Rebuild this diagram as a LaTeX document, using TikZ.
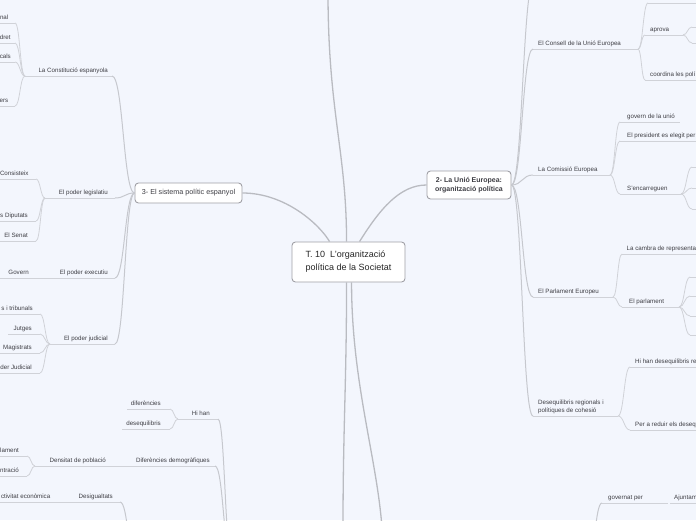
\documentclass[tikz,border=0pt]{standalone}
\usepackage{fontspec}
\setmainfont{Liberation Sans}
\usetikzlibrary{calc}
\definecolor{bg}{RGB}{243,246,253}
\definecolor{ln}{RGB}{208,210,216}
\definecolor{ln2}{RGB}{198,200,206}
\definecolor{mainln}{RGB}{185,187,193}
\definecolor{tx}{RGB}{62,62,68}
\definecolor{bord}{RGB}{160,160,166}
\tikzset{
  conn/.style={draw=ln, line width=0.8pt},
  conntwo/.style={draw=ln2, line width=1pt},
  mainconn/.style={draw=mainln, line width=1.3pt},
  uline/.style={draw=ln, line width=0.8pt},
  lbl/.style={font=\fontsize{6.2}{7.4}\selectfont, text=tx, inner sep=0pt},
  lblL/.style={lbl, anchor=base east},
  lblR/.style={lbl, anchor=base west},
  topbox/.style={draw=bord, fill=white, rounded corners=3.5pt, line width=0.9pt,
    font=\fontsize{7.2}{9.5}\selectfont, text=tx, align=center, inner sep=0pt},
}
\newcommand\mmL[6]{\coordinate (#1-l) at (#2,#4); \coordinate (#1-r) at (#3,#4);
  \draw[uline] (#1-l) -- (#1-r); \node[lblL] (#1) at (#5,#4-3.5) {#6};}
\newcommand\mmR[6]{\coordinate (#1-l) at (#2,#4); \coordinate (#1-r) at (#3,#4);
  \draw[uline] (#1-l) -- (#1-r); \node[lblR] (#1) at (#5,#4-3.5) {#6};}
\newcommand\mmU[4]{\coordinate (#1-l) at (#2,#4); \coordinate (#1-r) at (#3,#4);
  \draw[uline] (#1-l) -- (#1-r);}
\newcommand\mmconn[3][conn]{\draw[#1] let \p1=(#2), \p2=(#3) in (\p1) .. controls ({0.5*\x1+0.5*\x2},\y1) and ({0.5*\x1+0.5*\x2},\y2) .. (\p2);}
\begin{document}
\begin{tikzpicture}[x=1pt,y=-1pt]
\useasboundingbox (0,0) rectangle (696,520);
\fill[bg] (0,0) rectangle (696,520);
\begin{scope}
\clip (0,0) rectangle (696,520);
% main nodes
\node[topbox, minimum width=113pt, minimum height=40pt, align=left,
      font=\fontsize{9}{13}\selectfont, text=black!85] (n0) at (348.5,262)
      {T. 10\ \ L'organització\\política de la Societat};
\node[topbox, minimum width=107pt, minimum height=20pt] (n3) at (188.5,193) {3- El sistema polític espanyol};
\node[topbox, minimum width=84pt, minimum height=28pt, font=\bfseries\fontsize{7}{9.5}\selectfont] (n2) at (469,185) {2- La Unió Europea:\\organització política};
% anchor points on the central node
\coordinate (n0t1) at ($(n0.north west)+(38,0)$);
\coordinate (n0t2) at ($(n0.north west)+(55,0)$);
\coordinate (n0t3) at ($(n0.north west)+(68,0)$);
\coordinate (n0b1) at ($(n0.south west)+(55,0)$);
\coordinate (n0b2) at ($(n0.south west)+(60,0)$);
\coordinate (topout) at (328,-8);
\coordinate (botout1) at (343,528);
\coordinate (botout2) at (382,528);
\draw[mainconn] (n3.east) .. controls +(43,0) and +(-10,-17) .. (n0t1);
\draw[mainconn] (n0t2) .. controls +(0,-90) and +(0,120) .. (topout);
\draw[mainconn] (n0t3) .. controls +(20,-32) and +(-27,0) .. (n2.west);
\draw[mainconn] (n0b1) .. controls +(0,100) and +(0,-100) .. (botout1);
\draw[mainconn] (n0b2) .. controls +(0,100) and +(-5,-70) .. (botout2);
% ---------------- left: 3- El sistema politic espanyol
\mmL{constit}{25}{112}{76}{108}{La Constitució espanyola}
\mmL{ca}{0}{15}{23}{8.5}{nal}
\mmL{cb}{0}{15}{43}{10.8}{dret}
\mmL{cc}{0}{15}{62}{11}{cals}
\mmL{cd}{0}{15}{106}{8.5}{ers}
\mmL{legis}{45}{115}{198}{108}{El poder legislatiu}
\mmL{consist}{0}{36}{179}{28.8}{Consisteix}
\mmL{diput}{0}{36}{221}{28}{s Diputats}
\mmL{senat}{0}{36}{241}{28}{El Senat}
\mmL{exec}{45}{115}{278}{108}{El poder executiu}
\mmL{govern}{0}{45}{278}{29}{Govern}
\mmL{judic}{50}{115}{344}{108}{El poder judicial}
\mmL{tribun}{0}{40}{314}{33}{s i tribunals}
\mmL{jutges}{8}{40}{334}{32}{Jutges}
\mmL{magist}{0}{40}{353}{32}{Magistrats}
\mmL{cgpj}{0}{40}{373}{32}{der Judicial}
\mmconn[conntwo]{n3.west}{constit-r}
\mmconn[conntwo]{n3.west}{legis-r}
\mmconn[conntwo]{n3.west}{exec-r}
\mmconn[conntwo]{n3.west}{judic-r}
\mmconn{constit-l}{ca-r}
\mmconn{constit-l}{cb-r}
\mmconn{constit-l}{cc-r}
\mmconn{constit-l}{cd-r}
\mmconn{legis-l}{consist-r}
\mmconn{legis-l}{diput-r}
\mmconn{legis-l}{senat-r}
\mmconn{judic-l}{tribun-r}
\mmconn{judic-l}{jutges-r}
\mmconn{judic-l}{magist-r}
\mmconn{judic-l}{cgpj-r}
% ---------------- bottom left
\coordinate (hb) at (232,560);
\coordinate (db) at (136,560);
\mmL{hihan}{178}{218}{419}{210}{Hi han}
\mmL{difer}{127}{170}{409}{161}{diferències}
\mmL{deseqL}{122}{170}{429}{161}{desequilibris}
\mmL{difdem}{132}{215}{466}{210}{Diferències demogràfiques}
\mmL{densit}{35}{132}{466}{106}{Densitat de població}
\mmL{lament}{0}{27}{456}{19}{lament}
\mmL{ntrac}{0}{27}{476}{19}{ntració}
\mmL{desig}{50}{120}{502}{113}{Desigualtats}
\mmL{activ}{0}{50}{502}{50.5}{ctivitat econòmica}
\mmconn[conntwo]{hb}{hihan-r}
\mmconn[conntwo]{hb}{difdem-r}
\mmconn[conntwo]{db}{desig-r}
\mmconn{hihan-l}{difer-r}
\mmconn{hihan-l}{deseqL-r}
\mmconn{densit-l}{lament-r}
\mmconn{densit-l}{ntrac-r}
% ---------------- right: 2- La Unio Europea
\coordinate (rtop) at (534,-20);
\mmR{consell}{533}{638}{49}{538}{El Consell de la Unió Europea}
\mmU{topc}{648}{700}{3}
\mmR{aprova}{645}{683}{35}{650}{aprova}
\mmU{apA}{692}{700}{27}
\mmU{apB}{692}{700}{43}
\mmR{coord}{645}{700}{80}{650}{coordina les polí}
\mmR{comiss}{533}{610}{175}{538}{La Comissió Europea}
\mmR{govunio}{620}{680}{122}{627}{govern de la unió}
\mmR{presid}{620}{700}{141}{627}{El president es elegit per}
\mmR{encarr}{620}{681}{194}{627}{S'encarreguen}
\mmU{enA}{692}{700}{167}
\mmU{enB}{692}{700}{188}
\mmU{enC}{692}{700}{209}
\mmR{parlam}{533}{613}{297}{538}{El Parlament Europeu}
\mmR{cambra}{622}{700}{254}{626.5}{La cambra de representa}
\mmR{elparl}{622}{679}{307}{629}{El parlament}
\mmU{pA}{690}{700}{277}
\mmU{pB}{690}{700}{296}
\mmU{pC}{690}{700}{316}
\mmU{pD}{690}{700}{335}
\mmR{deseqR}{533}{618}{416}{538}{polítiques de cohesió}
\node[lblR] (deseqR1) at (538,404.8) {Desequilibris regionals i};
\mmR{hihanR}{630}{700}{367}{635}{Hi han desequilibris re}
\mmR{reduir}{630}{700}{430}{635}{Per a reduir els deseq}
\mmconn[conntwo]{n2.east}{rtop}
\mmconn[conntwo]{n2.east}{consell-l}
\mmconn[conntwo]{n2.east}{comiss-l}
\mmconn[conntwo]{n2.east}{parlam-l}
\mmconn[conntwo]{n2.east}{deseqR-l}
\mmconn{consell-r}{topc-l}
\mmconn{consell-r}{aprova-l}
\mmconn{consell-r}{coord-l}
\mmconn{aprova-r}{apA-l}
\mmconn{aprova-r}{apB-l}
\mmconn{comiss-r}{govunio-l}
\mmconn{comiss-r}{presid-l}
\mmconn{comiss-r}{encarr-l}
\mmconn{encarr-r}{enA-l}
\mmconn{encarr-r}{enB-l}
\mmconn{encarr-r}{enC-l}
\mmconn{parlam-r}{cambra-l}
\mmconn{parlam-r}{elparl-l}
\mmconn{elparl-r}{pA-l}
\mmconn{elparl-r}{pB-l}
\mmconn{elparl-r}{pC-l}
\mmconn{elparl-r}{pD-l}
\mmconn{deseqR-r}{hihanR-l}
\mmconn{deseqR-r}{reduir-l}
% ---------------- bottom right
\coordinate (gb) at (588,560);
\mmR{governat}{602}{668}{503}{608}{governat per}
\mmR{ajunt}{670}{700}{503}{674}{Ajuntam}
\mmconn[conntwo]{gb}{governat-l}
\end{scope}
\end{tikzpicture}
\end{document}
